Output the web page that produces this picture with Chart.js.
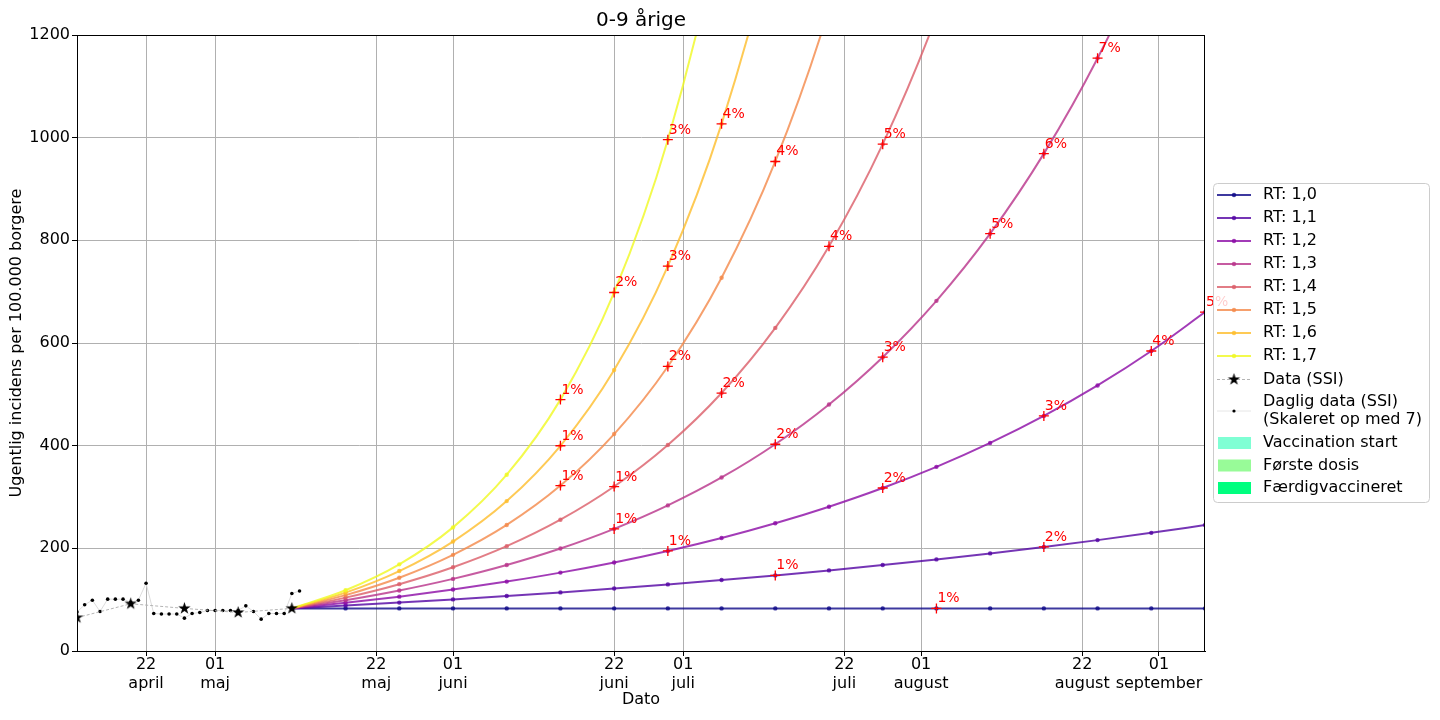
<!DOCTYPE html>
<html>
<head>
<meta charset="utf-8">
<title>0-9 årige</title>
<script src="https://cdn.jsdelivr.net/npm/chart.js@4/dist/chart.umd.min.js"></script>
<style>
  html, body { margin: 0; padding: 0; background: #fff; }
  #wrap { width: 1440px; height: 720px; position: relative; }
</style>
</head>
<body>
<div id="wrap"><canvas id="chart"></canvas></div>
<script>
// startdato for x-aksen (dag 0)
const startDate = '2021-04-13';
const endDate = '2021-09-07';

// ugentlige data (SSI)
const weeklyDates = ['2021-04-13', '2021-04-20', '2021-04-27', '2021-05-04', '2021-05-11'];
const weeklyValues = [65, 92, 83, 75, 83];

// daglige data (skaleret op med 7), en værdi pr. dag fra startDate
const dailyValues = [76, 90, 99, 77, 101, 101, 101, 95, 99, 132,
                     73, 72, 72, 72, 64, 73, 75, 79, 79, 79,
                     79, 79, 88, 77, 62, 73, 73, 73, 112, 117];

// fremskrivninger, ugentlige punkter
const projDates = ['2021-05-11', '2021-05-18', '2021-05-25', '2021-06-01', '2021-06-08', '2021-06-15',
                   '2021-06-22', '2021-06-29', '2021-07-06', '2021-07-13', '2021-07-20', '2021-07-27',
                   '2021-08-03', '2021-08-10', '2021-08-17', '2021-08-24', '2021-08-31', '2021-09-07'];

const rtLabels = ['RT: 1,0', 'RT: 1,1', 'RT: 1,2', 'RT: 1,3', 'RT: 1,4', 'RT: 1,5', 'RT: 1,6', 'RT: 1,7'];
const rtColors = ['#0d0887', '#5302a3', '#8b0aa5', '#b83289', '#db5c68', '#f48849', '#febd2a', '#f0f921'];

const rt10 = [83, 83, 83, 83, 83, 83, 83, 83, 83, 83, 83, 83, 83, 83, 83, 83, 83, 83];
const rt11 = [83, 88.5, 94.3, 100.5, 107.1, 114.2, 121.7, 129.7, 138.2, 147.3, 157.0, 167.4, 178.4, 190.1, 202.7, 216.0, 230.2, 245.4];
const rt12 = [83, 93.8, 105.9, 119.7, 135.2, 152.7, 172.5, 194.9, 220.2, 248.8, 281.1, 317.5, 358.7, 405.3, 457.9, 517.3, 584.4, 660.2];
const rt13 = [83, 98.9, 117.9, 140.5, 167.5, 199.6, 237.9, 283.6, 338.0, 402.8, 480.1, 572.3, 682.1, 812.9, 968.9, 1154.8, 1376.4, 1640];
const rt14 = [83, 104.0, 130.2, 163.1, 204.2, 255.8, 320.4, 401.2, 502.5, 629.4, 788.3, 987.3, 1236.5, 1548];
const rt15 = [83, 108.9, 142.8, 187.3, 245.6, 322.2, 422.6, 554.3, 727.0, 953.6, 1250.8, 1640];
const rt16 = [83, 113.7, 155.7, 213.2, 292.0, 399.8, 547.5, 749.9, 1026.9, 1406, 1925];
const rt17 = [83, 118.4, 168.8, 240.8, 343.4, 489.7, 698.4, 996.0, 1420.6, 2026];
const rtSeries = [rt10, rt11, rt12, rt13, rt14, rt15, rt16, rt17];

// procent-markeringer: hvilke uger (index i projDates) og teksten
const markWeeks = [[12], [9, 14], [7, 11, 14, 16, 17], [6, 9, 11, 13, 14, 15], [6, 8, 10, 11], [5, 7, 9], [5, 7, 8], [5, 6, 7]];
const markTexts = [['1%'], ['1%', '2%'], ['1%', '2%', '3%', '4%', '5%'], ['1%', '2%', '3%', '5%', '6%', '7%'],
                   ['1%', '2%', '4%', '5%'], ['1%', '2%', '4%'], ['1%', '3%', '4%'], ['1%', '2%', '3%']];

// x-akse ticks
const xTickDates = ['2021-04-22', '2021-05-01', '2021-05-22', '2021-06-01', '2021-06-22',
                    '2021-07-01', '2021-07-22', '2021-08-01', '2021-08-22', '2021-09-01'];
const xTickLabels = [['22', 'april'], ['01', 'maj'], ['22', 'maj'], ['01', 'juni'], ['22', 'juni'],
                     ['01', 'juli'], ['22', 'juli'], ['01', 'august'], ['22', 'august'], ['01', 'september']];

const legendPatches = [['Vaccination start', '#7fffd4'], ['Første dosis', '#98fb98'], ['Færdigvaccineret', '#00ff7f']];

const FONT = 'DejaVu Sans';

function dayOf(s) {
  return (Date.parse(s) - Date.parse(startDate)) / 86400000;
}

function withAlpha(hex, a) {
  const n = parseInt(hex.slice(1), 16);
  return `rgba(${n >> 16}, ${(n >> 8) & 255}, ${n & 255}, ${a})`;
}

// sort stjerne som punkt-stil
function makeStar(r) {
  const size = Math.ceil(r * 2 + 2);
  const c = document.createElement('canvas');
  c.width = size;
  c.height = size;
  const g = c.getContext('2d');
  const inner = r * 0.382;
  g.beginPath();
  for (let i = 0; i < 10; i++) {
    const rad = i % 2 === 0 ? r : inner;
    const a = -Math.PI / 2 + i * Math.PI / 5;
    const px = size / 2 + rad * Math.cos(a);
    const py = size / 2 + rad * Math.sin(a);
    if (i === 0) g.moveTo(px, py); else g.lineTo(px, py);
  }
  g.closePath();
  g.fillStyle = '#000';
  g.fill();
  return c;
}
const star = makeStar(6.5);

// datasets
const datasets = [];

rtSeries.forEach((vals, i) => {
  datasets.push({
    label: rtLabels[i],
    data: vals.map((v, k) => ({ x: dayOf(projDates[k]), y: v })),
    borderColor: withAlpha(rtColors[i], 0.8),
    backgroundColor: withAlpha(rtColors[i], 0.8),
    pointBackgroundColor: withAlpha(rtColors[i], 0.8),
    borderWidth: 2,
    pointRadius: 2.2,
    pointBorderWidth: 0,
    pointHoverRadius: 0,
    cubicInterpolationMode: 'monotone',
    fill: false,
    order: 10 - i
  });
});

datasets.push({
  label: 'Data (SSI)',
  data: weeklyDates.map((d, k) => ({ x: dayOf(d), y: weeklyValues[k] })),
  borderColor: '#b4b4b4',
  borderWidth: 1,
  borderDash: [3, 2],
  pointStyle: star,
  pointRadius: 6,
  fill: false,
  order: 1
});

datasets.push({
  label: 'Daglig data (SSI)',
  data: dailyValues.map((v, k) => ({ x: k, y: v })),
  borderColor: '#dcdcdc',
  borderWidth: 1,
  pointRadius: 1.8,
  pointBackgroundColor: '#000',
  pointBorderWidth: 0,
  fill: false,
  order: 2
});

const markPoints = [];
markWeeks.forEach((weeks, s) => {
  weeks.forEach((w, j) => {
    markPoints.push({ x: dayOf(projDates[w]), y: rtSeries[s][w], pct: markTexts[s][j] });
  });
});
datasets.push({
  label: 'marks',
  data: markPoints,
  showLine: false,
  pointStyle: 'cross',
  pointRadius: 5,
  borderColor: '#ff0000',
  borderWidth: 1.3,
  order: 0
});

// tekster, ramme og legende
const decorPlugin = {
  id: 'decor',
  afterDatasetsDraw(chart) {
    const ctx = chart.ctx;
    const area = chart.chartArea;
    const idx = chart.data.datasets.findIndex(d => d.label === 'marks');
    const meta = chart.getDatasetMeta(idx);
    ctx.save();
    ctx.font = `14px "${FONT}"`;
    ctx.fillStyle = '#ff0000';
    ctx.textAlign = 'left';
    ctx.textBaseline = 'alphabetic';
    meta.data.forEach((el, i) => {
      ctx.fillText(chart.data.datasets[idx].data[i].pct, el.x + 1, el.y - 6);
    });
    // ramme rundt om plottet
    ctx.strokeStyle = '#000';
    ctx.lineWidth = 1;
    ctx.strokeRect(area.left + 0.5, area.top + 0.5, area.right - area.left - 1, area.bottom - area.top);
    ctx.restore();
  },
  afterDraw(chart) {
    const ctx = chart.ctx;
    const area = chart.chartArea;
    const cx = (area.left + area.right) / 2;
    ctx.save();
    ctx.fillStyle = '#000';
    ctx.textAlign = 'center';
    ctx.textBaseline = 'middle';
    ctx.font = `20px "${FONT}"`;
    ctx.fillText('0-9 årige', cx, 21);
    ctx.font = `16px "${FONT}"`;
    ctx.fillText('Dato', cx, 700);
    ctx.save();
    ctx.translate(17, (area.top + area.bottom) / 2);
    ctx.rotate(-Math.PI / 2);
    ctx.fillText('Ugentlig incidens per 100.000 borgere', 0, 0);
    ctx.restore();

    // legende
    const lx = 1213, ly = 183, lw = 216, lh = 319;
    ctx.beginPath();
    ctx.roundRect(lx + 0.5, ly + 0.5, lw, lh, 4);
    ctx.fillStyle = 'rgba(255, 255, 255, 0.8)';
    ctx.fill();
    ctx.strokeStyle = '#cccccc';
    ctx.lineWidth = 1;
    ctx.stroke();

    const hx0 = 1217, hx1 = 1251, hxc = 1234, tx = 1263;
    ctx.font = `16px "${FONT}"`;
    ctx.textAlign = 'left';
    ctx.textBaseline = 'middle';
    rtLabels.forEach((lab, i) => {
      const y = 195 + 23 * i;
      ctx.strokeStyle = withAlpha(rtColors[i], 0.8);
      ctx.lineWidth = 2;
      ctx.beginPath();
      ctx.moveTo(hx0, y);
      ctx.lineTo(hx1, y);
      ctx.stroke();
      ctx.fillStyle = withAlpha(rtColors[i], 0.8);
      ctx.beginPath();
      ctx.arc(hxc, y, 2.2, 0, Math.PI * 2);
      ctx.fill();
      ctx.fillStyle = '#000';
      ctx.fillText(lab, tx, y);
    });

    let y = 379.5;
    ctx.strokeStyle = '#b4b4b4';
    ctx.lineWidth = 1;
    ctx.setLineDash([3, 2]);
    ctx.beginPath();
    ctx.moveTo(hx0, y);
    ctx.lineTo(hx1, y);
    ctx.stroke();
    ctx.setLineDash([]);
    ctx.drawImage(star, hxc - star.width / 2, y - star.height / 2);
    ctx.fillStyle = '#000';
    ctx.fillText('Data (SSI)', tx, y);

    y = 411;
    ctx.strokeStyle = '#e6e6e6';
    ctx.beginPath();
    ctx.moveTo(hx0, y);
    ctx.lineTo(hx1, y);
    ctx.stroke();
    ctx.fillStyle = '#000';
    ctx.beginPath();
    ctx.arc(hxc, y, 1.6, 0, Math.PI * 2);
    ctx.fill();
    ctx.fillText('Daglig data (SSI)', tx, 401.5);
    ctx.fillText('(Skaleret op med 7)', tx, 420);

    legendPatches.forEach((p, i) => {
      const py = 443 + 22.5 * i;
      ctx.fillStyle = p[1];
      ctx.fillRect(1218, py - 6, 33, 12);
      ctx.fillStyle = '#000';
      ctx.fillText(p[0], tx, py);
    });
    ctx.restore();
  }
};

const tickDays = xTickDates.map(dayOf);

new Chart(document.getElementById('chart'), {
  type: 'line',
  data: { datasets: datasets },
  options: {
    responsive: true,
    maintainAspectRatio: false,
    animation: false,
    events: [],
    layout: { padding: { top: 35, right: 235, bottom: 0, left: 0 } },
    elements: { line: { capBezierPoints: false } },
    plugins: {
      legend: { display: false },
      title: { display: false },
      tooltip: { enabled: false }
    },
    scales: {
      x: {
        type: 'linear',
        min: 0,
        max: dayOf(endDate),
        afterBuildTicks: function(scale) {
          scale.ticks = tickDays.map(v => ({ value: v }));
        },
        afterFit: function(scale) {
          scale.height = 69;
        },
        ticks: {
          autoSkip: false,
          maxRotation: 0,
          padding: 0,
          color: '#000',
          font: { family: FONT, size: 16, lineHeight: 1.15 },
          callback: function(value) {
            const i = tickDays.indexOf(value);
            return i >= 0 ? xTickLabels[i] : '';
          }
        },
        grid: { color: '#b0b0b0', lineWidth: 1, tickColor: '#000', tickLength: 5 },
        border: { color: '#000', width: 1 }
      },
      y: {
        min: 0,
        max: 1200,
        afterFit: function(scale) {
          scale.width = 77;
        },
        ticks: {
          stepSize: 200,
          padding: 2,
          color: '#000',
          font: { family: FONT, size: 16 },
          callback: function(value) {
            return String(value);
          }
        },
        grid: { color: '#b0b0b0', lineWidth: 1, tickColor: '#000', tickLength: 5 },
        border: { color: '#000', width: 1 }
      }
    }
  },
  plugins: [decorPlugin]
});
</script>
</body>
</html>
